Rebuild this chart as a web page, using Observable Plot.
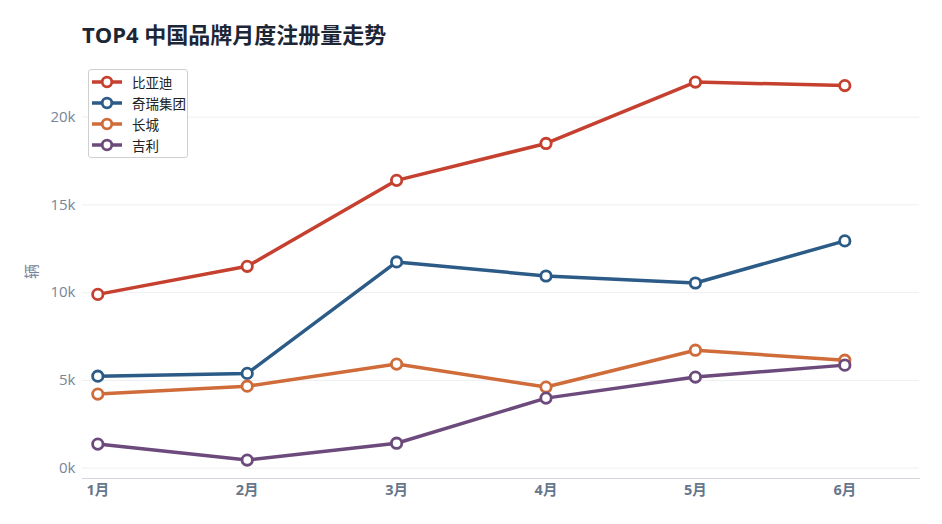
<!DOCTYPE html>
<html>
<head>
<meta charset="utf-8">
<script src="https://cdn.jsdelivr.net/npm/d3@7"></script>
<script src="https://cdn.jsdelivr.net/npm/@observablehq/plot@0.6"></script>
<style>
  body { margin: 0; background: #fff; }
  #wrap { position: relative; width: 942px; height: 524px; overflow: hidden; }
  #title { height: 56px; box-sizing: border-box; padding: 21px 0 0 82px; font: bold 22px/26px "Open Sans", "Noto Sans CJK SC", sans-serif; color: #1c2636; }
  #legend { position: absolute; left: 88px; top: 69px; width: 100px; box-sizing: border-box; border: 1px solid #cfcfcf; border-radius: 3px; background: #fff; padding: 1px 0 2px 3px; }
  .item { height: 21px; display: flex; align-items: center; font: 13.5px "Noto Sans CJK SC", sans-serif; color: #222; }
  .item svg { margin-right: 10px; }
</style>
</head>
<body>
<div id="wrap">
  <div id="title">TOP4 中国品牌月度注册量走势</div>
  <div id="chart"></div>
  <div id="legend"></div>
</div>
<script>
const months = ["1月", "2月", "3月", "4月", "5月", "6月"];
const brands = ["比亚迪", "奇瑞集团", "长城", "吉利"];
const colors = ["#c6402f", "#2b5b86", "#cf6c3a", "#6c4a7c"];
const byd = [9900, 11500, 16400, 18500, 22000, 21800];
const chery = [5240, 5400, 11750, 10950, 10550, 12950];
const greatWall = [4220, 4670, 5930, 4620, 6720, 6150];
const geely = [1370, 460, 1420, 3990, 5190, 5870];
const yTicks = [0, 5000, 10000, 15000, 20000];

const seriesValues = [byd, chery, greatWall, geely];
const data = [];
brands.forEach((b, bi) => seriesValues[bi].forEach((v, i) => data.push({brand: b, i, month: months[i], value: v})));

const chart = Plot.plot({
  width: 942,
  height: 468,
  marginLeft: 82,
  marginRight: 23,
  marginTop: 8,
  marginBottom: 46,
  style: {fontFamily: "'Open Sans', 'Noto Sans CJK SC', sans-serif", fontSize: "14px", background: "#fff"},
  x: {type: "linear", domain: [-0.1025, 5.5]},
  y: {domain: [-590, 23000]},
  color: {domain: brands, range: colors},
  marks: [
    Plot.gridY(yTicks, {stroke: "#eeeff2", strokeOpacity: 1}),
    Plot.frame({anchor: "bottom", stroke: "#d3d6df", strokeWidth: 1.2}),
    Plot.axisY({ticks: yTicks, tickFormat: d => d / 1000 + "k", tickSize: 0, tickPadding: 7, fill: "#75869a",
      label: "辆", labelAnchor: "center", labelArrow: "none", labelOffset: 56, fontSize: 15}),
    Plot.axisX({ticks: d3.range(months.length), tickFormat: i => months[i], tickSize: 0, tickPadding: 6,
      fill: "#66778b", fontWeight: "bold", label: null, fontSize: 14.5}),
    Plot.line(data, {x: "i", y: "value", z: "brand", stroke: "brand", strokeWidth: 3.5}),
    Plot.dot(data, {x: "i", y: "value", stroke: "brand", fill: "#fff", r: 5.2, strokeWidth: 2.8})
  ]
});
document.getElementById("chart").appendChild(chart);

const legend = document.getElementById("legend");
brands.forEach((b, i) => {
  const row = document.createElement("div");
  row.className = "item";
  row.innerHTML = `<svg width="30" height="14"><line x1="0" y1="7" x2="30" y2="7" stroke="${colors[i]}" stroke-width="3.5"/><circle cx="15" cy="7" r="4.8" fill="#fff" stroke="${colors[i]}" stroke-width="2.8"/></svg><span>${b}</span>`;
  legend.appendChild(row);
});
</script>
</body>
</html>
